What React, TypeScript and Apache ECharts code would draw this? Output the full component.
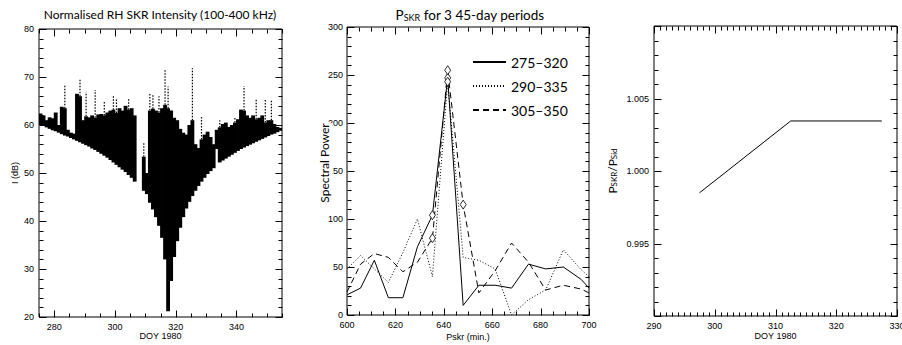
import React, { useEffect, useRef } from 'react';
import * as echarts from 'echarts';

const FONT = '"Liberation Sans", Arial, sans-serif';
const TFONT = 'Lato, "Liberation Sans", sans-serif';

// ---------- Panel 1: normalised RH SKR intensity ----------
const intensityDays = [
  275, 276, 277, 278, 279, 280, 281, 282, 283, 284, 285, 286, 287, 288, 289, 290, 291, 292, 293, 294,
  295, 296, 297, 298, 299, 300, 301, 302, 303, 304, 305, 306, 307, 308, 309, 310, 311, 312, 313, 314,
  315, 316, 317, 318, 319, 320, 321, 322, 323, 324, 325, 326, 327, 328, 329, 330, 331, 332, 333, 334,
  335, 336, 337, 338, 339, 340, 341, 342, 343, 344, 345, 346, 347, 348, 349, 350, 351, 352, 353, 354,
];
const intensityLow = [
  60.0, 59.8, 59.5, 59.2, 58.9, 58.7, 58.4, 58.1, 57.8, 57.6, 57.3, 57.0, 56.7, 56.4, 56.1, 55.8, 55.5, 55.1, 54.8, 54.4,
  54.0, 53.6, 53.2, 52.7, 52.2, 51.7, 51.2, 50.7, 50.2, 49.6, 49.0, 48.2, null, null, 46.3, 45.6, 43.8, 42.4, 40.8, 39.0,
  36.5, 32.0, 21.2, 27.5, 32.5, 35.8, 38.6, 40.8, 42.6, 44.0, 45.2, 46.3, 47.3, 48.2, 49.0, 49.8, 50.4, 51.0, 55.0, 52.2,
  52.6, 53.0, 53.4, 53.8, 54.2, 54.6, 55.0, 55.3, 55.6, 55.9, 56.2, 56.5, 56.8, 57.1, 57.4, 57.7, 58.0, 58.2, 58.5, 58.8,
];
const intensityTop = [
  62.4, 62.0, 61.0, 61.6, 61.4, 62.6, 60.0, 63.8, 63.5, 59.0, 58.4, 58.2, 66.5, 66.0, 61.0, 61.8, 61.6, 62.0, 61.5, 62.2,
  62.3, 62.0, 62.6, 63.0, 63.2, 62.5, 63.5, 63.0, 64.0, 63.2, 63.5, 62.0, null, null, 53.4, 50.0, 63.0, 63.4, 63.0, 62.6,
  63.5, 64.2, 63.5, 63.0, 61.5, 61.0, 59.2, 58.4, 58.0, 60.0, 61.0, 56.0, 55.2, 57.0, 58.0, 58.6, 57.5, 56.0, 59.0, 59.5,
  60.2, 60.5, 59.6, 60.0, 60.5, 61.2, 63.2, 63.0, 62.0, 61.5, 62.0, 61.2, 61.5, 62.0, 60.5, 61.0, 61.0, 60.2, 59.6, 59.4,
];
const spikeDays = [283, 288, 290, 293, 296, 299, 300, 304, 309, 311, 312, 314, 316, 317, 325, 328, 334, 339, 342, 346, 349, 351];
const spikeTops = [68.3, 69.7, 66.9, 67.3, 64.8, 66.0, 65.5, 65.5, 56.5, 66.6, 66.3, 66.0, 71.5, 68.0, 71.8, 61.8, 61.0, 61.5, 68.1, 65.5, 65.2, 65.2];

// ---------- Panel 2: P_SKR spectra ----------
const periods = [600, 605.6, 611.3, 617.1, 623.1, 629.1, 635.3, 641.6, 648.0, 654.5, 661.2, 668.0, 675.0, 682.1, 689.4, 696.8, 700];
const power275 = [21, 28, 57, 18, 18, 71, 104, 247, 10, 31, 31, 28, 53, 48, 50, 37, 28];
const power290 = [48, 62, 48, 34, 65, 100, 40, 243, 60, 57, 48, 0, 16, 26, 68, 47, 40];
const power305 = [24, 53, 64, 60, 45, 55, 80, 255, 115, 23, 46, 75, 55, 26, 31, 27, 23];
const seriesNames = ['275–320', '290–335', '305–350'];
const diamond275 = [635.3, 641.6];
const diamond290 = [641.6];
const diamond305 = [635.3, 641.6, 648.0];

// ---------- Panel 3: P_SKR / P_Sid ----------
const ratioDays = [297.5, 312.5, 327.5];
const ratioValues = [0.9985, 1.00345, 1.00345];

// ---------- Tick positions (major ticks carry labels) ----------
const p1xMajor = [280, 300, 320, 340];
const p1yMajor = [20, 30, 40, 50, 60, 70, 80];
const p2xMajor = [600, 620, 640, 660, 680, 700];
const p2yMajor = [0, 50, 100, 150, 200, 250, 300];
const p3xMajor = [290, 300, 310, 320, 330];
const p3yMajor = [0.990, 0.995, 1.000, 1.005, 1.010];
const p1xMinorStep = 5, p1yMinorStep = 2;
const p2xMinorStep = 5, p2yMinorStep = 10;
const p3xMinorStep = 1, p3yMinorStep = 0.001;

const GRIDS = [
  { left: 39, top: 29, width: 243, height: 288 },
  { left: 347, top: 27, width: 242, height: 288 },
  { left: 654, top: 26, width: 243, height: 290 },
];

const MAJOR_LEN = 7;
const MINOR_LEN = 4;

function steps(min: number, max: number, step: number) {
  const out: number[] = [];
  const n = Math.round((max - min) / step);
  for (let i = 0; i <= n; i++) out.push(+(min + i * step).toFixed(6));
  return out;
}

// Rows [x, y, side, length] for the inward ticks on all four sides of a panel.
function tickRows(xr: number[], yr: number[], xMajor: number[], yMajor: number[], xStep: number, yStep: number) {
  const rows: number[][] = [];
  const xMinor = steps(xr[0], xr[1], xStep);
  const yMinor = steps(yr[0], yr[1], yStep);
  const isMaj = (arr: number[], v: number) => arr.some((m) => Math.abs(m - v) < 1e-9);
  xMinor.forEach((v) => {
    const len = isMaj(xMajor, v) ? MAJOR_LEN : MINOR_LEN;
    rows.push([v, yr[0], 0, len], [v, yr[1], 1, len]);
  });
  yMinor.forEach((v) => {
    const len = isMaj(yMajor, v) ? MAJOR_LEN : MINOR_LEN;
    rows.push([xr[0], v, 2, len], [xr[1], v, 3, len]);
  });
  return rows;
}

function tickSeries(idx: number, rows: number[][]) {
  return {
    type: 'custom', xAxisIndex: idx, yAxisIndex: idx, clip: false, silent: true,
    encode: { x: 0, y: 1 },
    data: rows,
    renderItem: (params: any, api: any) => {
      const p = api.coord([api.value(0), api.value(1)]);
      const side = api.value(2);
      const len = api.value(3);
      const x = Math.round(p[0]) + 0.5;
      const y = Math.round(p[1]) + 0.5;
      let shape;
      if (side === 0) shape = { x1: x, y1: y, x2: x, y2: y - len };
      else if (side === 1) shape = { x1: x, y1: y, x2: x, y2: y + len };
      else if (side === 2) shape = { x1: x, y1: y, x2: x + len, y2: y };
      else shape = { x1: x, y1: y, x2: x - len, y2: y };
      return { type: 'line', shape, style: { stroke: '#000', lineWidth: 1 } };
    },
  };
}

function axis(gridIndex: number, position: string, scale: any, label: any, name: any) {
  return {
    type: 'value', gridIndex, position, ...scale,
    axisLine: { show: false, onZero: false },
    axisTick: { show: false },
    minorTick: { show: false },
    splitLine: { show: false },
    axisLabel: { show: true, color: '#000', fontSize: 9, fontFamily: FONT, margin: 5, ...label },
    nameLocation: 'middle',
    nameMoveOverlap: false,
    ...name,
    nameTextStyle: { color: '#000', fontSize: 9, fontFamily: FONT, ...(name.nameTextStyle || {}) },
  };
}

function markedData(xs: number[], ys: number[], marks: number[]) {
  return xs.map((x, i) =>
    marks.includes(x)
      ? { value: [x, ys[i]], symbol: 'diamond', symbolSize: [6, 9] }
      : { value: [x, ys[i]], symbol: 'none' }
  );
}

export default function App() {
  const ref = useRef<HTMLDivElement>(null);
  useEffect(() => {
    if (!ref.current) return;
    const chart = echarts.init(ref.current, undefined, { renderer: 'svg' });

    const rangeData = intensityDays
      .map((d, i) => [d, intensityLow[i], intensityTop[i]])
      .filter((r) => r[1] != null && r[2] != null);
    const spikeData = spikeDays.map((d, i) => [d, intensityTop[intensityDays.indexOf(d)], spikeTops[i]]);

    const x1 = { min: 275, max: 355, splitNumber: 4 };
    const y1 = { min: 20, max: 80, interval: 10 };
    const x2 = { min: 600, max: 700, interval: 20 };
    const y2 = { min: 0, max: 300, interval: 50 };
    const x3 = { min: 290, max: 330, interval: 10 };
    const y3 = { min: 0.99, max: 1.01, interval: 0.005 };

    const sub = { fontSize: 8, fontFamily: TFONT, color: '#000', verticalAlign: 'bottom', lineHeight: 14 };

    const option: any = {
      animation: false,
      grid: GRIDS.map((g) => ({ ...g, show: true, borderColor: '#000', borderWidth: 1,
        backgroundColor: 'transparent', outerBoundsMode: 'none' })),
      xAxis: [
        axis(0, 'bottom', x1, { showMinLabel: false, showMaxLabel: false }, { name: 'DOY 1980', nameGap: 14 }),
        axis(1, 'bottom', x2, {}, { name: 'Pskr (min.)', nameGap: 17 }),
        axis(2, 'bottom', x3, { showMaxLabel: true }, { name: 'DOY 1980', nameGap: 15 }),
      ],
      yAxis: [
        axis(0, 'left', y1, {}, { name: 'I (dB)', nameGap: 20 }),
        axis(1, 'left', y2, { margin: 4 }, {}),
        axis(2, 'left', y3,
          { showMinLabel: false, showMaxLabel: false, formatter: (v: number) => v.toFixed(3) },
          { name: '{p|P}{s|SKR}{p|/P}{s|Sid}', nameGap: 36,
            nameTextStyle: { rich: { p: { fontSize: 12, fontFamily: TFONT, color: '#000', verticalAlign: 'bottom', lineHeight: 14 }, s: sub } } }),
      ],
      legend: {
        data: seriesNames,
        orient: 'vertical',
        left: 467,
        top: 50,
        itemWidth: 33,
        itemHeight: 14,
        itemGap: 10,
        selectedMode: false,
        itemStyle: { color: 'transparent', borderColor: 'transparent', borderWidth: 0, opacity: 0 },
        textStyle: { fontSize: 14, fontFamily: TFONT, color: '#000' },
      },
      graphic: [
        { type: 'text', x: 160, y: 14, z: 100,
          style: { text: 'Normalised RH SKR Intensity (100-400 kHz)', fontSize: 12, fontFamily: TFONT,
            fill: '#000', align: 'center', verticalAlign: 'middle' } },
        { type: 'text', x: 470, y: 14, z: 100,
          style: { text: '{p|P}{s|SKR}{p| for 3 45-day periods}', align: 'center', verticalAlign: 'middle',
            rich: { p: { fontSize: 13.5, fontFamily: TFONT, fill: '#000', verticalAlign: 'bottom', lineHeight: 16 },
              s: { fontSize: 9, fontFamily: TFONT, fill: '#000', verticalAlign: 'bottom', lineHeight: 16 } } } },
        { type: 'text', x: 324, y: 163, rotation: Math.PI / 2, z: 100,
          style: { text: 'Spectral Power', fontSize: 12, fontFamily: TFONT, fill: '#000',
            align: 'center', verticalAlign: 'middle', backgroundColor: '#fff', padding: [0, 0, 5, 0] } },
      ],
      series: [
        {
          type: 'custom', xAxisIndex: 0, yAxisIndex: 0, clip: true,
          encode: { x: 0, y: [1, 2] },
          data: rangeData,
          renderItem: (params: any, api: any) => {
            const d = api.value(0);
            const p0 = api.coord([d, api.value(2)]);
            const p1 = api.coord([d + 1, api.value(1)]);
            return { type: 'rect', shape: { x: p0[0] - 0.4, y: p0[1], width: p1[0] - p0[0] + 0.8, height: p1[1] - p0[1] },
              style: { fill: '#000' } };
          },
        },
        {
          type: 'custom', xAxisIndex: 0, yAxisIndex: 0, clip: true,
          encode: { x: 0, y: [1, 2] },
          data: spikeData,
          renderItem: (params: any, api: any) => {
            const d = api.value(0) + 0.5;
            const p0 = api.coord([d, api.value(1)]);
            const p1 = api.coord([d, api.value(2)]);
            return { type: 'line', shape: { x1: p0[0], y1: p0[1], x2: p1[0], y2: p1[1] },
              style: { stroke: '#000', lineWidth: 1.2, lineDash: [1.5, 1.5] } };
          },
        },
        {
          name: seriesNames[0], type: 'line', xAxisIndex: 1, yAxisIndex: 1, symbol: 'none', showSymbol: true,
          lineStyle: { color: '#000', width: 1, type: 'solid' },
          itemStyle: { color: '#fff', borderColor: '#000', borderWidth: 0.8 },
          data: markedData(periods, power275, diamond275),
        },
        {
          name: seriesNames[1], type: 'line', xAxisIndex: 1, yAxisIndex: 1, symbol: 'none', showSymbol: true,
          lineStyle: { color: '#000', width: 1, type: [1, 2] },
          itemStyle: { color: '#fff', borderColor: '#000', borderWidth: 0.8 },
          data: markedData(periods, power290, diamond290),
        },
        {
          name: seriesNames[2], type: 'line', xAxisIndex: 1, yAxisIndex: 1, symbol: 'none', showSymbol: true,
          lineStyle: { color: '#000', width: 1, type: [6, 4] },
          itemStyle: { color: '#fff', borderColor: '#000', borderWidth: 0.8 },
          data: markedData(periods, power305, diamond305),
        },
        {
          type: 'line', xAxisIndex: 2, yAxisIndex: 2, symbol: 'none',
          lineStyle: { color: '#000', width: 1 },
          data: ratioDays.map((d, i) => [d, ratioValues[i]]),
        },
        tickSeries(0, tickRows([275, 355], [20, 80], p1xMajor, p1yMajor, p1xMinorStep, p1yMinorStep)),
        tickSeries(1, tickRows([600, 700], [0, 300], p2xMajor, p2yMajor, p2xMinorStep, p2yMinorStep)),
        tickSeries(2, tickRows([290, 330], [0.99, 1.01], p3xMajor, p3yMajor, p3xMinorStep, p3yMinorStep)),
      ],
    };
    chart.setOption(option);
    return () => chart.dispose();
  }, []);
  return <div ref={ref} style={{ position: 'absolute', left: 0, top: 0, width: 902, height: 345, background: '#fff' }} />;
}
